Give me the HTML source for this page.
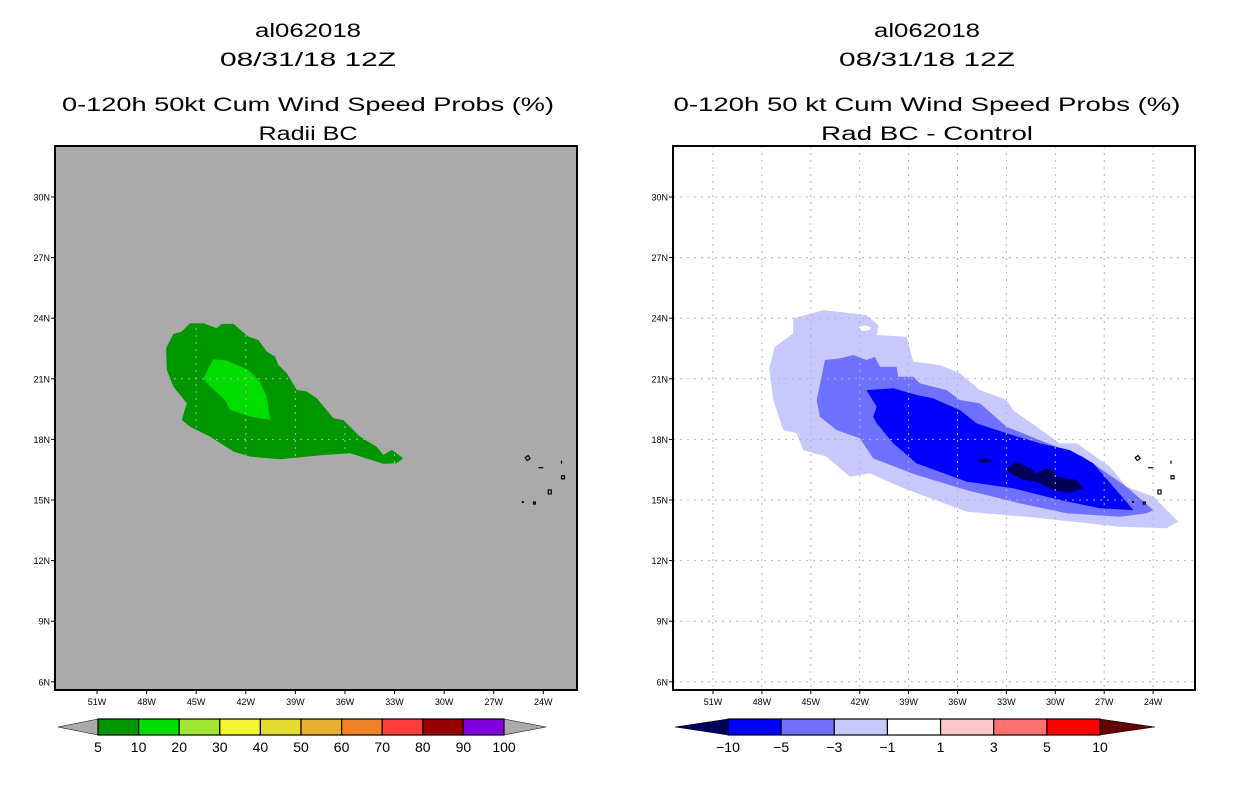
<!DOCTYPE html>
<html><head><meta charset="utf-8"><style>
html,body{margin:0;padding:0;background:#fff;}
svg{display:block;font-family:"Liberation Sans",sans-serif;}
</style></head><body>
<svg id="chart" width="1236" height="800" viewBox="0 0 1236 800" xmlns="http://www.w3.org/2000/svg">
<defs>
<clipPath id="clipL"><rect x="55" y="146" width="522" height="544"/></clipPath>
<clipPath id="clipR"><rect x="673" y="146" width="522" height="544"/></clipPath>
<clipPath id="greenClip"><polygon id="greenClipPoly" points=""/></clipPath>
</defs>
<g id="titles" font-size="19" fill="#000">
<text x="308" y="37" text-anchor="middle" textLength="106" lengthAdjust="spacingAndGlyphs">al062018</text>
<text x="308" y="66" text-anchor="middle" textLength="176" lengthAdjust="spacingAndGlyphs">08/31/18 12Z</text>
<text x="308" y="111" text-anchor="middle" textLength="492" lengthAdjust="spacingAndGlyphs">0-120h 50kt Cum Wind Speed Probs (%)</text>
<text x="308" y="140" text-anchor="middle" textLength="99" lengthAdjust="spacingAndGlyphs">Radii BC</text>
<text x="927" y="37" text-anchor="middle" textLength="106" lengthAdjust="spacingAndGlyphs">al062018</text>
<text x="927" y="66" text-anchor="middle" textLength="176" lengthAdjust="spacingAndGlyphs">08/31/18 12Z</text>
<text x="927" y="111" text-anchor="middle" textLength="507" lengthAdjust="spacingAndGlyphs">0-120h 50 kt Cum Wind Speed Probs (%)</text>
<text x="927" y="140" text-anchor="middle" textLength="212" lengthAdjust="spacingAndGlyphs">Rad BC - Control</text>
</g>
<rect x="55" y="146" width="522" height="544" fill="#aaaaaa"/>
<rect x="673" y="146" width="522" height="544" fill="#ffffff"/>
<g id="leftMarks" clip-path="url(#clipL)"></g>
<g id="rightMarks" clip-path="url(#clipR)"></g>
<g id="axes"></g>
<rect x="55" y="146" width="522" height="544" fill="none" stroke="#000" stroke-width="2"/>
<rect x="673" y="146" width="522" height="544" fill="none" stroke="#000" stroke-width="2"/>
<g id="colorbars"></g>
</svg>
<script>
const NS="http://www.w3.org/2000/svg";
const latTicks=[30,27,24,21,18,15,12,9,6];
const lonTicks=[-51,-48,-45,-42,-39,-36,-33,-30,-27,-24];
// probability contours (lon,lat) for left panel
const leftOuterLon=[-46.82,-46.38,-45.87,-45.37,-44.56,-43.76,-43.45,-42.75,-41.84,-41.24,-40.73,-40.23,-40.03,-39.52,-38.92,-38.31,-37.71,-36.70,-36.10,-35.09,-34.08,-33.68,-33.17,-32.47,-32.87,-33.68,-35.69,-37.31,-39.93,-41.74,-42.75,-44.16,-45.37,-45.87,-45.57,-46.38,-46.78];
const leftOuterLat=[22.51,23.22,23.34,23.75,23.75,23.50,23.72,23.72,23.09,22.92,22.35,22.10,21.69,21.27,20.45,20.37,20.04,19.05,18.96,18.14,17.64,17.23,17.48,17.07,16.82,16.79,17.31,17.23,17.02,17.15,17.40,18.14,18.63,18.96,19.79,20.61,21.44];
const leftInnerLon=[-43.96,-43.15,-41.84,-41.14,-40.73,-40.53,-41.74,-42.95,-43.25,-44.26,-44.56,-44.26];
const leftInnerLat=[21.97,21.90,21.44,20.86,20.12,18.96,19.13,19.46,19.95,20.70,21.03,21.52];
// difference contours for right panel
const rLightLon=[-47.55,-47.20,-46.08,-46.08,-44.23,-41.58,-40.86,-40.96,-39.12,-38.71,-37.08,-35.85,-34.62,-32.99,-32.58,-29.72,-28.69,-26.65,-25.63,-23.99,-22.46,-23.17,-26.03,-31.76,-35.44,-37.90,-39.53,-41.37,-42.60,-44.03,-45.46,-45.87,-46.69,-47.30];
const rLightLat=[21.52,22.59,23.25,23.99,24.40,24.16,23.66,23.17,23.08,21.85,21.68,21.27,20.44,19.95,19.45,17.80,17.80,16.65,15.66,15.16,13.93,13.60,13.68,14.17,14.42,15.16,15.66,16.32,16.15,17.14,17.47,18.30,18.46,19.95];
const rMidLon=[-44.64,-44.13,-43.21,-42.39,-41.58,-41.07,-40.76,-39.74,-39.63,-38.71,-38.30,-36.67,-35.85,-34.62,-32.99,-30.74,-28.28,-25.63,-23.99,-24.40,-26.03,-29.31,-32.17,-35.44,-38.51,-41.17,-41.99,-43.42,-44.44];
const rMidLat=[19.95,21.93,22.01,22.18,21.93,22.09,21.60,21.60,21.10,21.10,20.77,20.44,19.95,19.78,18.63,17.89,17.14,15.66,14.50,14.34,14.17,14.34,14.83,15.49,16.24,17.06,18.05,18.46,19.12];
const rDarkLon=[-41.58,-39.94,-38.51,-37.49,-35.85,-34.83,-32.99,-30.94,-29.10,-27.67,-25.83,-25.21,-27.26,-29.72,-32.58,-35.44,-38.51,-39.94,-40.96,-41.17,-40.96];
const rDarkLat=[20.44,20.53,20.20,20.03,19.45,18.79,18.30,17.80,17.47,16.81,15.08,14.50,14.59,15.00,15.58,15.91,16.81,17.80,18.79,19.12,19.62];
const rNavyLon=[-33.09,-32.37,-31.56,-31.15,-30.53,-30.12,-29.92,-28.69,-28.28,-29.10,-30.12,-31.15,-31.97];
const rNavyLat=[16.48,16.90,16.57,16.32,16.57,16.48,16.15,15.99,15.58,15.36,15.49,15.91,15.99];
const leftBarLabels=["5","10","20","30","40","50","60","70","80","90","100"];
const leftBarColors=["#009600","#00dc00","#a0e632","#f5f532","#e6dc32","#e6af2d","#f08228","#fa3c3c","#960000","#8200dc"];
const rightBarLabels=["\u221210","\u22125","\u22123","\u22121","1","3","5","10"];
const rightBarColors=["#0000ff","#7070ff","#c8c8ff","#ffffff","#ffc8c8","#ff7070","#ff0000"];

const yL=lat=>500-(lat-15)*20.2;
const xL=lon=>97+(lon+51)*16.53;
const xR=lon=>713+(lon+51)*16.3;
function mk(tag,attrs,parent){const e=document.createElementNS(NS,tag);for(const k in attrs)e.setAttribute(k,attrs[k]);parent.appendChild(e);return e;}
function pts(lons,lats,xf){return lons.map((l,i)=>xf(l).toFixed(1)+","+yL(lats[i]).toFixed(1)).join(" ");}
const L=document.getElementById("leftMarks"),R=document.getElementById("rightMarks"),A=document.getElementById("axes"),C=document.getElementById("colorbars");

let p=mk("polygon",{points:pts(leftOuterLon,leftOuterLat,xL),fill:"#009600"},L);


p=mk("polygon",{points:pts(leftInnerLon,leftInnerLat,xL),fill:"#00dc00"},L);


document.getElementById("greenClipPoly").setAttribute("points",pts(leftOuterLon,leftOuterLat,xL));
const gl=mk("g",{"clip-path":"url(#greenClip)",stroke:"#b4b4b4","stroke-width":"1","stroke-dasharray":"2,5"},L);
lonTicks.forEach(v=>{mk("line",{x1:xL(v),x2:xL(v),y1:146,y2:690},gl);});
latTicks.forEach(v=>{mk("line",{x1:55,x2:577,y1:yL(v),y2:yL(v)},gl);});

p=mk("polygon",{points:pts(rLightLon,rLightLat,xR),fill:"#c8c8ff"},R);


mk("ellipse",{cx:xR(-41.7),cy:yL(23.5),rx:6,ry:2.5,fill:"#fff"},R);
p=mk("polygon",{points:pts(rMidLon,rMidLat,xR),fill:"#7070ff"},R);


p=mk("polygon",{points:pts(rDarkLon,rDarkLat,xR),fill:"#0000ff"},R);


p=mk("polygon",{points:pts(rNavyLon,rNavyLat,xR),fill:"#00005a"},R);


mk("ellipse",{cx:xR(-34.3),cy:yL(16.95),rx:6,ry:2,fill:"#00005a"},R);
const gr=mk("g",{stroke:"#b4b4b4","stroke-width":"1","stroke-dasharray":"2,5"},R);
lonTicks.forEach(v=>{mk("line",{x1:xR(v),x2:xR(v),y1:146,y2:690},gr);});
latTicks.forEach(v=>{mk("line",{x1:673,x2:1195,y1:yL(v),y2:yL(v)},gr);});

// islands
[[xL,L],[xR,R]].forEach(([xf,g])=>{
  const ig=mk("g",{fill:"none",stroke:"#000","stroke-width":"1.2"},g);
  
  
  mk("path",{d:`M${xf(-25.1)} ${yL(17.1)} l3 -2 l2 3 l-3 2 z`},ig);
  mk("path",{d:`M${xf(-24.3)} ${yL(16.6)} l5 0`},ig);
  mk("path",{d:`M${xf(-22.9)} ${yL(16.8)} l0 -3`},ig);
  mk("path",{d:`M${xf(-22.9)} ${yL(16.2)} l3 0 l0 3 l-3 0 z`},ig);
  mk("path",{d:`M${xf(-23.7)} ${yL(15.3)} l3 0 l0 -4 l-3 0 z`},ig);
  mk("path",{d:`M${xf(-24.6)} ${yL(14.9)} l2 0 l0 2 l-2 0 z`},ig);
  mk("rect",{x:xf(-25.3),y:yL(14.9)-1,width:2,height:2,fill:"#000",stroke:"none"},ig);
});

// axes ticks & labels
function lonLabel(v){return Math.abs(v)+"W";}
[[xL,55,577],[xR,673,1195]].forEach(([xf,x0,x1],pi)=>{
  latTicks.forEach(v=>{
    mk("line",{x1:x0-4,x2:x0,y1:yL(v),y2:yL(v),stroke:"#000"},A);
    const t=mk("text",{x:x0-5,y:yL(v)+3.5,"font-size":"9","text-anchor":"end"},A);
    t.textContent=v+"N";
    
    
  });
  lonTicks.forEach(v=>{
    mk("line",{x1:xf(v),x2:xf(v),y1:690,y2:694,stroke:"#000"},A);
    const t=mk("text",{x:xf(v),y:705,"font-size":"9","text-anchor":"middle"},A);
    t.textContent=lonLabel(v);
    
    
  });
});

// colorbars
function bar(x0,x1,colors,labels,leftTri,rightTri,tx0,tx1,name){
  const g=mk("g",{},C);
  
  
  const y0=719,y1=735,w=(x1-x0)/colors.length;
  mk("polygon",{points:`${tx0},${(y0+y1)/2} ${x0},${y0} ${x0},${y1}`,fill:leftTri,stroke:"#000","stroke-width":"0.5"},g);
  mk("polygon",{points:`${tx1},${(y0+y1)/2} ${x1},${y0} ${x1},${y1}`,fill:rightTri,stroke:"#000","stroke-width":"0.5"},g);
  colors.forEach((c,i)=>{
    const r=mk("rect",{x:x0+i*w,y:y0,width:w,height:y1-y0,fill:c,stroke:"#000","stroke-width":"1.2"},g);
    
    
  });
  labels.forEach((l,i)=>{
    const t=mk("text",{x:x0+i*w,y:752,"font-size":"14","text-anchor":"middle"},g);
    t.textContent=l;
    
    
  });
}
bar(98,504,leftBarColors,leftBarLabels,"#aaaaaa","#aaaaaa",58,546,"left-colorbar");
bar(728,1100,rightBarColors,rightBarLabels,"#00005a","#640000",675,1155,"right-colorbar");
</script>
</body></html>
